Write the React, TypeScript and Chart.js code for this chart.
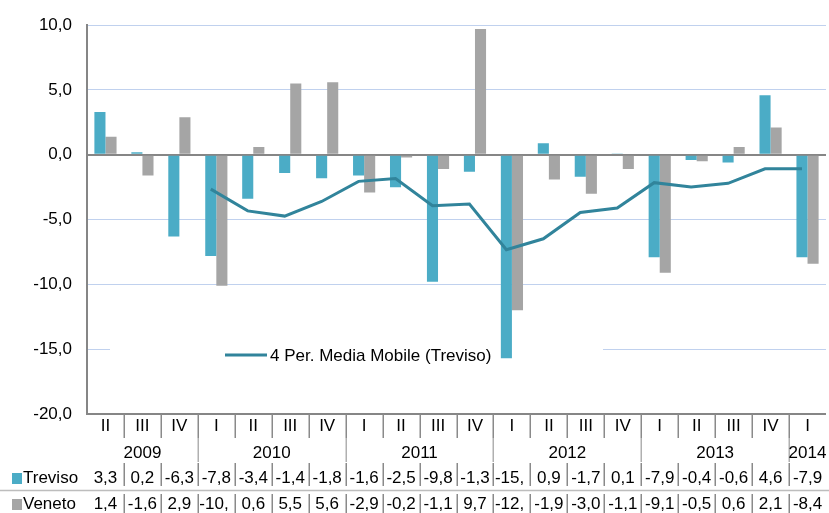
import React, { useEffect, useRef } from "react";
import { Chart, registerables } from "chart.js";

Chart.register(...registerables);

const quarters = ["II", "III", "IV", "I", "II", "III", "IV", "I", "II", "III", "IV", "I", "II", "III", "IV", "I", "II", "III", "IV", "I"];
const years = ["2009", "2010", "2011", "2012", "2013", "2014"];
const yearSpans = [3, 4, 4, 4, 4, 1];
const treviso = [3.3, 0.2, -6.3, -7.8, -3.4, -1.4, -1.8, -1.6, -2.5, -9.8, -1.3, -15.7, 0.9, -1.7, 0.1, -7.9, -0.4, -0.6, 4.6, -7.9];
const veneto = [1.4, -1.6, 2.9, -10.1, 0.6, 5.5, 5.6, -2.9, -0.2, -1.1, 9.7, -12.0, -1.9, -3.0, -1.1, -9.1, -0.5, 0.6, 2.1, -8.4];
const movingAvg = [null, null, null, -2.65, -4.33, -4.73, -3.6, -2.05, -1.83, -3.93, -3.8, -7.33, -6.48, -4.45, -4.1, -2.15, -2.48, -2.2, -1.08, -1.08];
const seriesNames = ["Treviso", "Veneto"];
const lineLabel = "4 Per. Media Mobile (Treviso)";

const FAMILY = '"Liberation Sans", Arial, sans-serif';
const FS = 17;
const C_TREV = "#4BACC6";
const C_VEN = "#A5A5A5";
const C_LINE = "#31849B";
const C_AXIS = "#868686";
const C_GRID = "#C0D1EE";

const fmt = (v: number) => v.toFixed(1).replace(".", ",");

export default function App() {
  const ref = useRef<HTMLCanvasElement>(null);

  useEffect(() => {
    document.body.style.margin = "0";
    const canvas = ref.current!;

    const tablePlugin = {
      id: "tablePlugin",
      beforeDatasetsDraw(chart: any) {
        const ctx = chart.ctx;
        const ca = chart.chartArea;
        ctx.save();
        ctx.fillStyle = "#fff";
        ctx.fillRect(110, ca.bottom - 74, 493, 28);
        ctx.restore();
      },
      beforeDatasetDraw(chart: any, args: any) {
        if (args.index === 2) {
          const bw = chart.getDatasetMeta(0).data[0].width;
          chart.ctx.save();
          chart.ctx.translate(-bw / 2, 0);
        }
      },
      afterDatasetDraw(chart: any, args: any) {
        if (args.index === 2) chart.ctx.restore();
      },
      afterDatasetsDraw(chart: any) {
        const ctx = chart.ctx;
        const ca = chart.chartArea;
        const ly = ca.bottom - 59;
        ctx.save();
        ctx.strokeStyle = C_LINE;
        ctx.lineWidth = 3;
        ctx.beginPath();
        ctx.moveTo(225, ly);
        ctx.lineTo(267, ly);
        ctx.stroke();
        ctx.fillStyle = "#000";
        ctx.font = `${FS}px ${FAMILY}`;
        ctx.textBaseline = "middle";
        ctx.textAlign = "left";
        ctx.fillText(lineLabel, 270, ly + 1);
        ctx.restore();
      },
      afterDraw(chart: any) {
        const ctx = chart.ctx;
        const ca = chart.chartArea;
        const xs = chart.scales.x;
        const n = quarters.length;
        const cw = (ca.right - ca.left) / n;
        const b = ca.bottom;
        const W = chart.width;
        ctx.save();
        ctx.font = `${FS}px ${FAMILY}`;
        ctx.fillStyle = "#000";
        ctx.textBaseline = "middle";

        ctx.lineWidth = 1.5;
        for (let i = 1; i < n; i++) {
          const x = Math.round(ca.left + i * cw) + 0.25;
          ctx.strokeStyle = "#8a8a8a";
          ctx.beginPath();
          ctx.moveTo(x, b);
          ctx.lineTo(x, b + 24);
          ctx.moveTo(x, b + 49);
          ctx.lineTo(x, b + 72);
          ctx.moveTo(x, b + 80);
          ctx.lineTo(x, b + 99);
          ctx.stroke();
        }
        let acc = 0;
        for (let k = 0; k < yearSpans.length - 1; k++) {
          acc += yearSpans[k];
          const x = Math.round(ca.left + acc * cw) + 0.25;
          ctx.strokeStyle = "#b0b0b0";
          ctx.beginPath();
          ctx.moveTo(x, b + 24);
          ctx.lineTo(x, b + 48);
          ctx.stroke();
        }
        ctx.strokeStyle = "#bdbdbd";
        ctx.beginPath();
        ctx.moveTo(0, b + 76.5);
        ctx.lineTo(W, b + 76.5);
        ctx.stroke();

        ctx.textAlign = "center";
        quarters.forEach((q, i) => {
          ctx.fillText(q, xs.getPixelForValue(i), b + 12.5);
        });
        acc = 0;
        years.forEach((y, k) => {
          const x0 = ca.left + acc * cw;
          const x1 = ca.left + (acc + yearSpans[k]) * cw;
          ctx.fillText(y, (x0 + x1) / 2, b + 39);
          acc += yearSpans[k];
        });

        const rows = [treviso, veneto];
        const rowY = [b + 64.5, b + 90.5];
        const cols = [C_TREV, C_VEN];
        rows.forEach((vals, r) => {
          vals.forEach((v, i) => {
            let s = fmt(v);
            const x0 = ca.left + i * cw;
            if (ctx.measureText(s).width > cw - 3) {
              while (s.length > 1 && ctx.measureText(s).width > cw - 3) s = s.slice(0, -1);
              ctx.textAlign = "left";
              ctx.fillText(s, x0 + 1.5, rowY[r]);
            } else {
              ctx.textAlign = "center";
              ctx.fillText(s, x0 + cw / 2, rowY[r]);
            }
          });
          ctx.fillStyle = cols[r];
          ctx.fillRect(12, rowY[r] - 5.5, 10, 11);
          ctx.fillStyle = "#000";
          ctx.textAlign = "left";
          ctx.fillText(seriesNames[r], 23, rowY[r]);
        });
        ctx.restore();
      },
    };

    const chart = new Chart(canvas, {
      type: "bar",
      data: {
        labels: quarters,
        datasets: [
          {
            label: seriesNames[0],
            data: treviso,
            backgroundColor: C_TREV,
            categoryPercentage: 0.6,
            barPercentage: 1.0,
            order: 1,
          },
          {
            label: seriesNames[1],
            data: veneto,
            backgroundColor: C_VEN,
            categoryPercentage: 0.6,
            barPercentage: 1.0,
            order: 1,
          },
          {
            type: "line",
            label: lineLabel,
            data: movingAvg as any,
            borderColor: C_LINE,
            borderWidth: 3,
            pointRadius: 0,
            tension: 0,
            fill: false,
            order: 0,
          } as any,
        ],
      },
      options: {
        animation: false,
        responsive: false,
        events: [],
        layout: { padding: { top: 20, bottom: 99, left: 0, right: 3 } },
        plugins: { legend: { display: false }, tooltip: { enabled: false } },
        scales: {
          x: { display: false, offset: true },
          y: {
            min: -20,
            max: 10,
            ticks: {
              stepSize: 5,
              padding: 15,
              color: "#000",
              font: { family: FAMILY, size: FS },
              callback: (v: any) => fmt(Number(v)),
            },
            grid: {
              drawTicks: false,
              color: (c: any) => (c.tick && (c.tick.value === 0 || c.tick.value === -20) ? C_AXIS : C_GRID),
              lineWidth: (c: any) => (c.tick && (c.tick.value === 0 || c.tick.value === -20) ? 2 : 1),
            },
            border: { color: C_AXIS, width: 2 },
            afterFit: (s: any) => {
              s.width = 87;
            },
          },
        },
      },
      plugins: [tablePlugin],
    });
    return () => chart.destroy();
  }, []);

  return <canvas ref={ref} width={829} height={513} style={{ display: "block" }} />;
}
